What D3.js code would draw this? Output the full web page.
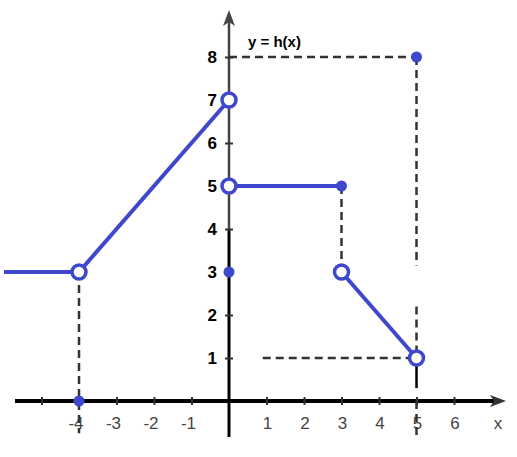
<!DOCTYPE html>
<html>
<head>
<meta charset="utf-8">
<script src="https://cdn.jsdelivr.net/npm/d3@7"></script>
<style>
  body { margin: 0; background: white; }
  svg { display: block; }
</style>
</head>
<body>
<div id="chart"></div>
<script>
// pieces of y = h(x)
var segments = [
    [[-6, 3], [-4, 3]],
    [[-4, 3], [0, 7]],
    [[0, 5], [3, 5]],
    [[3, 3], [5, 1]]
];
var openPoints = [[-4, 3], [0, 7], [0, 5], [3, 3], [5, 1]];
var filledPoints = [[3, 5], [0, 3], [5, 8], [-4, 0]];
// dashed guide lines
var guides = [
    [[0, 8], [5, 8]],
    [[5, 8], [5, 3.15]],
    [[5, 2.2], [5, 1]],
    [[3, 5], [3, 3]],
    [[0.9, 1], [5, 1]],
    [[-4, 3], [-4, -0.75]],
    [[5, 0], [5, -0.85]]
];
var xTicks = [-5, -4, -3, -2, -1, 1, 2, 3, 4, 5, 6];
var xLabels = [-4, -3, -2, -1, 1, 2, 3, 4, 5, 6];
var yTicks = [1, 2, 3, 4, 5, 6, 7, 8];

var width = 517, height = 457;
var blue = "#3f47cc";

var x = d3.scaleLinear().domain([-6, 7.4]).range([4, 506.5]);
var y = d3.scaleLinear().domain([0, 8]).range([401, 57]);

var svg = d3.select("#chart").append("svg")
    .attr("width", width)
    .attr("height", height)
    .style("background", "white");

// axes lines
svg.append("line")
    .attr("x1", x(0)).attr("x2", x(0))
    .attr("y1", 22).attr("y2", y(4))
    .attr("stroke", "#444").attr("stroke-width", 2.5);
svg.append("line")
    .attr("x1", x(0)).attr("x2", x(0))
    .attr("y1", y(4)).attr("y2", 437)
    .attr("stroke", "#000").attr("stroke-width", 3);
svg.append("path")
    .attr("d", "M" + x(0) + ",10 L" + (x(0) - 6) + ",26 L" + x(0) + ",22 L" + (x(0) + 6) + ",26 Z")
    .attr("fill", "#444");

svg.append("line")
    .attr("x1", 15).attr("x2", 495)
    .attr("y1", y(0)).attr("y2", y(0))
    .attr("stroke", "#000").attr("stroke-width", 4);
svg.append("path")
    .attr("d", "M506," + y(0) + " L490," + (y(0) - 6) + " L494," + y(0) + " L490," + (y(0) + 6) + " Z")
    .attr("fill", "#333");

// ticks
var xAxis = d3.axisBottom(x).tickValues(xTicks).tickSize(0).tickFormat("");
var gx = svg.append("g").attr("transform", "translate(0," + y(0) + ")").call(xAxis);
gx.select(".domain").remove();
gx.selectAll(".tick line").attr("y1", -4).attr("y2", 4).attr("stroke", "#333").attr("stroke-width", 2);

var yAxis = d3.axisLeft(y).tickValues(yTicks).tickSize(0)
    .tickFormat(function(d) { return d; });
var gy = svg.append("g").attr("transform", "translate(" + x(0) + ",0)").call(yAxis);
gy.select(".domain").remove();
gy.selectAll(".tick line").attr("x1", -4).attr("x2", 4).attr("stroke", "#333").attr("stroke-width", 2);
gy.selectAll(".tick text")
    .attr("x", -12)
    .attr("dy", "0.3em")
    .attr("font-family", "Liberation Sans, Arial, sans-serif")
    .attr("font-size", 17)
    .attr("font-weight", "bold")
    .attr("fill", "#000");

svg.selectAll(".xlabel")
    .data(xLabels)
    .enter().append("text")
    .attr("class", "xlabel")
    .attr("x", function(d) { return x(d) + (d < 0 ? -3 : 1); })
    .attr("y", y(0) + 28)
    .attr("text-anchor", "middle")
    .attr("font-family", "Liberation Sans, Arial, sans-serif")
    .attr("font-size", 17)
    .attr("fill", "#444")
    .text(function(d) { return d; });

svg.append("text")
    .attr("x", 498).attr("y", y(0) + 28)
    .attr("text-anchor", "middle")
    .attr("font-family", "Liberation Sans, Arial, sans-serif")
    .attr("font-size", 17)
    .attr("fill", "#444")
    .text("x");

svg.append("text")
    .attr("x", 248).attr("y", 47)
    .attr("font-family", "Liberation Sans, Arial, sans-serif")
    .attr("font-size", 15)
    .attr("font-weight", "bold")
    .attr("fill", "#000")
    .text("y = h(x)");

// dashed guides
svg.selectAll(".guide")
    .data(guides)
    .enter().append("line")
    .attr("class", "guide")
    .attr("x1", function(d) { return x(d[0][0]); })
    .attr("y1", function(d) { return y(d[0][1]); })
    .attr("x2", function(d) { return x(d[1][0]); })
    .attr("y2", function(d) { return y(d[1][1]); })
    .attr("stroke", "#333")
    .attr("stroke-width", 2.5)
    .attr("stroke-dasharray", "8,5");

// short solid piece below the open point at x=5
svg.append("line")
    .attr("x1", x(5)).attr("x2", x(5))
    .attr("y1", y(1)).attr("y2", y(0.3))
    .attr("stroke", "#000").attr("stroke-width", 2.5);

// graph
var line = d3.line()
    .x(function(d) { return x(d[0]); })
    .y(function(d) { return y(d[1]); });

svg.selectAll(".seg")
    .data(segments)
    .enter().append("path")
    .attr("class", "seg")
    .attr("d", line)
    .attr("fill", "none")
    .attr("stroke", blue)
    .attr("stroke-width", 4);

svg.selectAll(".filled")
    .data(filledPoints)
    .enter().append("circle")
    .attr("class", "filled")
    .attr("cx", function(d) { return x(d[0]); })
    .attr("cy", function(d) { return y(d[1]); })
    .attr("r", 5.5)
    .attr("fill", blue);

svg.selectAll(".open")
    .data(openPoints)
    .enter().append("circle")
    .attr("class", "open")
    .attr("cx", function(d) { return x(d[0]); })
    .attr("cy", function(d) { return y(d[1]); })
    .attr("r", 7)
    .attr("fill", "white")
    .attr("stroke", blue)
    .attr("stroke-width", 3.5);
</script>
</body>
</html>
